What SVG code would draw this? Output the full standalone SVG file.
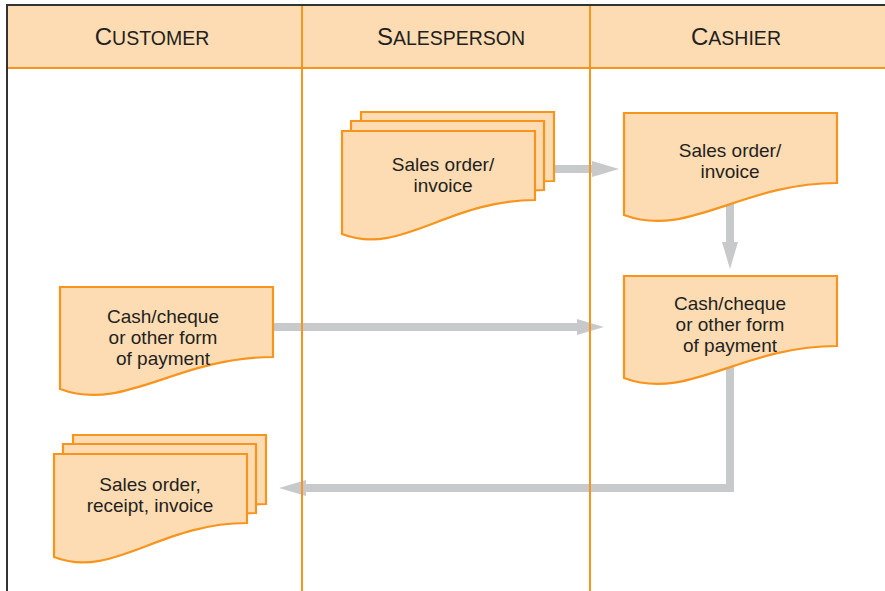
<svg xmlns="http://www.w3.org/2000/svg" width="885" height="591" viewBox="0 0 885 591">
<style>
.doc{fill:#FDDCB3;stroke:#F7941D;stroke-width:2.2;stroke-linejoin:miter}
.lane{stroke:#F7941D;stroke-width:2;fill:none}
.frame{stroke:#333;stroke-width:2;fill:none}
.conn{stroke:#C8C9CB;stroke-width:8;fill:none;stroke-linejoin:miter}
.t{font-family:"Liberation Sans",Arial,sans-serif;font-size:19px;fill:#231F20;text-anchor:middle}
.h{font-family:"Liberation Sans",Arial,sans-serif;font-size:19.5px;fill:#231F20;text-anchor:middle}
.big{font-size:24px}
</style>
<defs>
<path id="doc" d="M0,0 H193 V69 C106,69 58,126 0,103 Z"/>
<path id="docw" d="M0,0 H213 V70 C117,70 64,126 0,102 Z"/>
<marker id="ah" markerUnits="userSpaceOnUse" viewBox="0 0 27 16" refX="1" refY="8" markerWidth="27" markerHeight="16" orient="auto">
<path d="M0,0 L27,8 L0,16 Z" fill="#C8C9CB"/>
</marker>
</defs>
<rect x="7" y="5" width="878" height="63" fill="#FDDCB3"/>
<g id="connectors">
<path class="conn" d="M540,169 H593" marker-end="url(#ah)"/>
<path class="conn" d="M730,200 V243" marker-end="url(#ah)"/>
<path class="conn" d="M260,327 H578" marker-end="url(#ah)"/>
<path class="conn" d="M730,360 V488 H305" marker-end="url(#ah)"/>
</g>
<g id="lanes">
<line class="lane" x1="7" y1="68" x2="885" y2="68" stroke-width="2.5"/>
<line class="lane" x1="302" y1="6" x2="302" y2="591"/>
<line class="lane" x1="590" y1="6" x2="590" y2="591"/>
<path class="frame" d="M7,591 V5 H885"/>
<text class="h" x="152" y="45"><tspan class="big">C</tspan>USTOMER</text>
<text class="h" x="451" y="45"><tspan class="big">S</tspan>ALESPERSON</text>
<text class="h" x="736" y="45"><tspan class="big">C</tspan>ASHIER</text>
</g>
<g id="salesperson-invoice">
<use href="#doc" class="doc" transform="translate(361,112)"/>
<use href="#doc" class="doc" transform="translate(351,121)"/>
<use href="#doc" class="doc" transform="translate(342,131)"/>
<text class="t" x="443" y="171">Sales order/</text>
<text class="t" x="443" y="192">invoice</text>
</g>
<g id="cashier-invoice">
<use href="#docw" class="doc" transform="translate(624,113)"/>
<text class="t" x="730" y="157">Sales order/</text>
<text class="t" x="730" y="178">invoice</text>
</g>
<g id="cashier-payment">
<use href="#docw" class="doc" transform="translate(624,276)"/>
<text class="t" x="730" y="310">Cash/cheque</text>
<text class="t" x="730" y="331">or other form</text>
<text class="t" x="730" y="352">of payment</text>
</g>
<g id="customer-payment">
<use href="#docw" class="doc" transform="translate(60,287)"/>
<text class="t" x="163" y="323">Cash/cheque</text>
<text class="t" x="163" y="344">or other form</text>
<text class="t" x="163" y="365">of payment</text>
</g>
<g id="customer-receipt">
<use href="#doc" class="doc" transform="translate(73,435)"/>
<use href="#doc" class="doc" transform="translate(63,444)"/>
<use href="#doc" class="doc" transform="translate(54,454)"/>
<text class="t" x="150" y="491">Sales order,</text>
<text class="t" x="150" y="512">receipt, invoice</text>
</g>
</svg>
